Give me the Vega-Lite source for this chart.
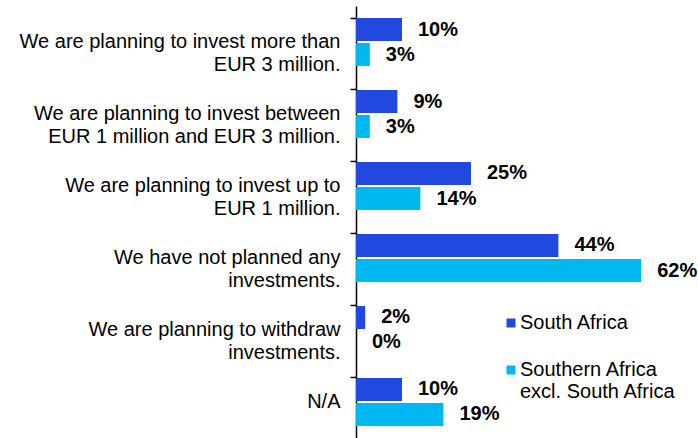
{
  "$schema": "https://vega.github.io/schema/vega-lite/v6.json",
  "width": 322,
  "height": 432,
  "autosize": "none",
  "padding": {"left": 356, "top": 6, "right": 20, "bottom": 0},
  "background": "white",
  "config": {"view": {"stroke": null}, "font": "Liberation Sans"},
  "data": {
    "values": [
      {"cat": "We are planning to invest more than|EUR 3 million.", "series": "South Africa", "v": 0.10, "o": 1},
      {"cat": "We are planning to invest more than|EUR 3 million.", "series": "Southern Africa|excl. South Africa", "v": 0.03, "o": 1},
      {"cat": "We are planning to invest between|EUR 1 million and EUR 3 million.", "series": "South Africa", "v": 0.09, "o": 2},
      {"cat": "We are planning to invest between|EUR 1 million and EUR 3 million.", "series": "Southern Africa|excl. South Africa", "v": 0.03, "o": 2},
      {"cat": "We are planning to invest up to|EUR 1 million.", "series": "South Africa", "v": 0.25, "o": 3},
      {"cat": "We are planning to invest up to|EUR 1 million.", "series": "Southern Africa|excl. South Africa", "v": 0.14, "o": 3},
      {"cat": "We have not planned any|investments.", "series": "South Africa", "v": 0.44, "o": 4},
      {"cat": "We have not planned any|investments.", "series": "Southern Africa|excl. South Africa", "v": 0.62, "o": 4},
      {"cat": "We are planning to withdraw|investments.", "series": "South Africa", "v": 0.02, "o": 5},
      {"cat": "We are planning to withdraw|investments.", "series": "Southern Africa|excl. South Africa", "v": 0.0, "o": 5},
      {"cat": "N/A", "series": "South Africa", "v": 0.10, "o": 6},
      {"cat": "N/A", "series": "Southern Africa|excl. South Africa", "v": 0.19, "o": 6}
    ]
  },
  "encoding": {
    "y": {
      "field": "cat", "type": "nominal", "sort": {"field": "o", "op": "min"},
      "scale": {"paddingInner": 0.333, "paddingOuter": 0.1667},
      "axis": {
        "title": null, "bandPosition": 0, "tickSize": 6, "tickColor": "black", "domainColor": "black",
        "domainWidth": 1.5, "tickWidth": 1.5,
        "labelFontSize": 20, "labelColor": "black", "labelPadding": 10, "labelLineHeight": 23,
        "labelExpr": "split(datum.label, '|')", "labelLimit": 400
      }
    },
    "yOffset": {"field": "series", "type": "nominal", "scale": {"paddingInner": 0.08}},
    "x": {"field": "v", "type": "quantitative", "scale": {"domain": [0, 0.7]}, "axis": null}
  },
  "layer": [
    {
      "mark": {"type": "bar"},
      "encoding": {
        "color": {
          "field": "series", "type": "nominal",
          "scale": {"range": ["#2149DF", "#00B8F0"]},
          "legend": {
            "title": null, "orient": "none", "legendX": 145, "legendY": 307,
            "symbolType": "square", "symbolSize": 81, "symbolStrokeWidth": 0,
            "labelFontSize": 20, "labelColor": "black", "labelLineHeight": 23,
            "labelExpr": "split(datum.label, '|')", "rowPadding": 27, "labelOffset": -1, "labelLimit": 300
          }
        }
      }
    },
    {
      "mark": {"type": "text", "align": "left", "baseline": "middle", "dx": 16, "fontSize": 20, "fontWeight": "bold", "color": "black"},
      "encoding": {"text": {"field": "v", "type": "quantitative", "format": ".0%"}}
    }
  ]
}
